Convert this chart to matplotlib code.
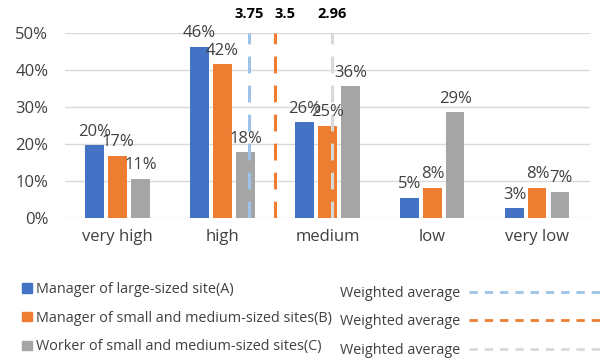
import matplotlib
matplotlib.use("Agg")
import matplotlib.pyplot as plt
from matplotlib.patches import Patch
from matplotlib.lines import Line2D
from matplotlib.transforms import blended_transform_factory

plt.rcParams['font.family'] = ['Open Sans', 'DejaVu Sans']

# data
categories = ['very high', 'high', 'medium', 'low', 'very low']
series_names = ['Manager of large-sized site(A)',
                'Manager of small and medium-sized sites(B)',
                'Worker of small and medium-sized sites(C)']
values_a = [19.6, 46.3, 25.9, 5.4, 2.6]
values_b = [16.8, 41.5, 25.0, 8.2, 8.2]
values_c = [10.6, 17.8, 35.6, 28.6, 7.1]
weighted_avg = [3.75, 3.5, 2.96]
scale_top = 5  # "very high" = 5 ... "very low" = 1

bar_colors = ['#4472C4', '#ED7D31', '#A5A5A5']
line_colors = ['#9DC3E6', '#ED7D31', '#D9D9D9']
avg_label_shift = [0, 7, 0]  # points, keeps the avg labels apart
text_col = '#404040'

fig = plt.figure(figsize=(6.02, 3.63), dpi=100)
ax = fig.add_axes([0.108, 0.3994, 0.872, 0.5097])

width = 0.172
step = 0.219
x = list(range(len(categories)))
for k, vals in enumerate([values_a, values_b, values_c]):
    xs = [i + (k - 1) * step for i in x]
    ax.bar(xs, vals, width, color=bar_colors[k], zorder=2)
    for xi, v in zip(xs, vals):
        ax.annotate('%d%%' % round(v), (xi, v), xytext=(0, 4),
                    textcoords='offset points', ha='center', va='bottom',
                    fontsize=12, color=text_col, zorder=4)

trans = blended_transform_factory(ax.transData, ax.transAxes)
for avg, c, dx in zip(weighted_avg, line_colors, avg_label_shift):
    xv = scale_top - avg
    ax.axvline(xv, color=c, lw=2.2, dashes=(5.5, 4), zorder=3)
    ax.annotate('%g' % avg, (xv, 1.065), xycoords=trans, xytext=(dx, 0),
                textcoords='offset points', ha='center', va='bottom',
                fontsize=10.5, fontweight='bold', color='black')

ax.set_xlim(-0.5, len(categories) - 0.5)
ax.set_ylim(0, 50)
ax.set_yticks(range(0, 51, 10))
ax.set_yticklabels(['%d%%' % t for t in range(0, 51, 10)])
ax.set_xticks(x)
ax.set_xticklabels(categories)
ax.tick_params(length=0, labelsize=12, colors=text_col, pad=12)
ax.tick_params(axis='x', pad=8)
ax.grid(axis='y', color='#D9D9D9', lw=1, zorder=0)
for s in ax.spines.values():
    s.set_visible(False)

bar_handles = [Patch(color=c) for c in bar_colors]
fig.legend(bar_handles, series_names, loc='upper left',
           bbox_to_anchor=(0.025, 0.243), frameon=False, fontsize=10.4,
           handlelength=0.65, handleheight=0.65, handletextpad=0.3,
           labelspacing=0.95, labelcolor=text_col, borderpad=0)

line_handles = [Line2D([0], [0], color=c, lw=2, dashes=(3, 2.5)) for c in line_colors]
fig.legend(line_handles, ['Weighted average'] * 3, loc='upper left',
           bbox_to_anchor=(0.553, 0.233), frameon=False, fontsize=10.4,
           markerfirst=False, handlelength=10, handletextpad=0.6,
           labelspacing=0.95, labelcolor=text_col, borderpad=0)

fig.savefig('out.png', dpi=100)
